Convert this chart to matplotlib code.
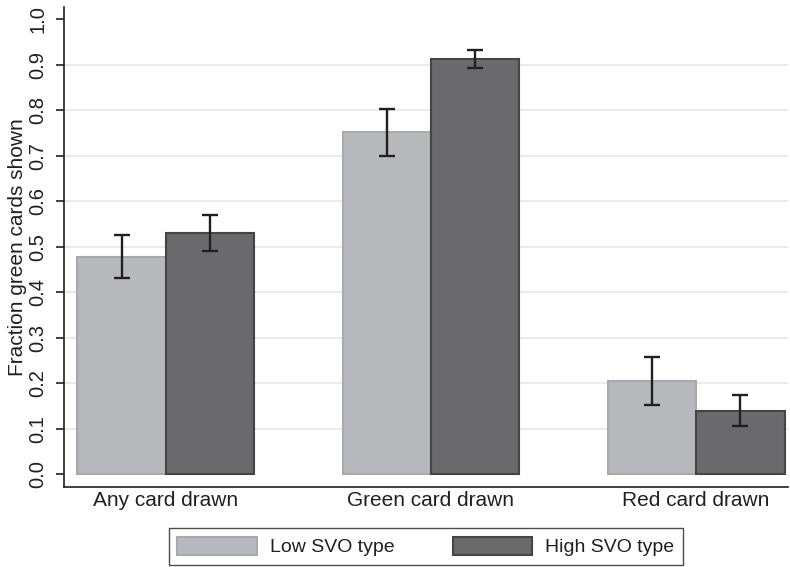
import numpy as np
import matplotlib
matplotlib.use('Agg')
import matplotlib.pyplot as plt

plt.rcParams['font.family'] = ['Liberation Sans', 'DejaVu Sans']

# Dados: fração de cartas verdes mostradas por tipo de SVO
categories = ['Any card drawn', 'Green card drawn', 'Red card drawn']
low_svo = [0.478, 0.751, 0.205]
high_svo = [0.530, 0.913, 0.140]
low_err = [0.047, 0.052, 0.053]
high_err = [0.039, 0.020, 0.034]
y_ticks = [0.0, 0.1, 0.2, 0.3, 0.4, 0.5, 0.6, 0.7, 0.8, 0.9, 1.0]

x = np.arange(len(categories))
w = 1 / 3
ink = '#231f20'

fig = plt.figure(figsize=(7.9, 5.67), dpi=100)
ax = fig.add_axes([0.081, 0.141, 0.916, 0.847])

# Linhas de grade (sem as extremidades)
for t in y_ticks[1:-1]:
    ax.axhline(t, color='#ebebeb', lw=1.5, zorder=0)

ax.bar(x - w / 2, low_svo, w, color='#b8b9bc', edgecolor='#a8a9ac', lw=1.5,
       label='Low SVO type', zorder=2)
ax.bar(x + w / 2, high_svo, w, color='#6a6a6c', edgecolor='#454547', lw=1.5,
       label='High SVO type', zorder=2)

err_kw = dict(fmt='none', ecolor=ink, elinewidth=1.7, capsize=6, capthick=1.7, zorder=3)
ax.errorbar(x - w / 2, low_svo, yerr=low_err, **err_kw)
ax.errorbar(x + w / 2, high_svo, yerr=high_err, **err_kw)

ax.set_xlim(-0.384, 2.345)
ax.set_ylim(-0.028, 1.027)
ax.set_yticks(y_ticks)
ax.set_yticklabels(['%.1f' % t for t in y_ticks], rotation=90, va='center', fontsize=14.5)
ax.set_xticks(x)
ax.set_xticklabels(categories, fontsize=15)
ax.tick_params(axis='x', length=0, pad=3, colors=ink)
ax.tick_params(axis='y', length=6, width=1.2, pad=6, color=ink, labelcolor=ink)
ax.set_ylabel('Fraction green cards shown', fontsize=15, color=ink)
ax.yaxis.set_label_coords(-0.051, 0.5)

for s in ['top', 'right']:
    ax.spines[s].set_visible(False)
for s in ['left', 'bottom']:
    ax.spines[s].set_color(ink)
    ax.spines[s].set_linewidth(1.2)

leg = ax.legend(loc='upper center', bbox_to_anchor=(0.5, -0.085), ncol=2, frameon=True,
                fancybox=False, edgecolor=ink, fontsize=14, handlelength=4.1,
                handleheight=1.05, columnspacing=3.0, handletextpad=0.65,
                borderpad=0.45, borderaxespad=0)
leg.get_frame().set_linewidth(1.0)
for txt in leg.get_texts():
    txt.set_color(ink)

fig.savefig('out.png', dpi=100)
